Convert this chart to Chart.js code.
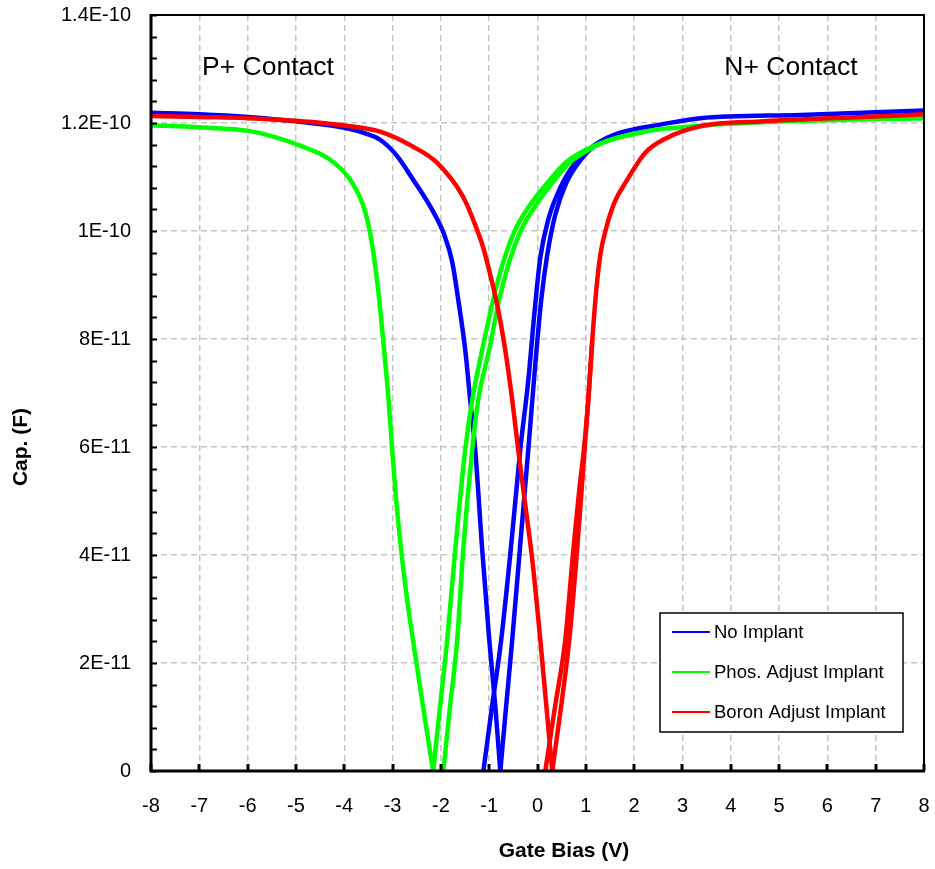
<!DOCTYPE html>
<html>
<head>
<meta charset="utf-8">
<script src="https://cdn.jsdelivr.net/npm/chart.js@4/dist/chart.umd.min.js"></script>
<style>
  body { margin: 0; background: #fff; }
  canvas { display: block; }
</style>
</head>
<body>
<canvas id="chart" width="935" height="869"></canvas>
<script>
// Gate bias (V) and capacitance (pF).
// Each curve: one falling branch into the dip, and two rising branches (two sweeps).
const PF = 1e-12;

// No Implant
const blueDownV = [-8, -7, -6, -5, -3.878, -3.567, -3.257, -2.925, -2.573, -2.18, -1.931, -1.766, -1.641, -1.496, -1.393, -1.289, -1.144, -0.999, -0.875, -0.77];
const blueDownC = [121.9, 121.6, 121.1, 120.3, 118.9, 118.1, 116.9, 114.1, 109.5, 103.9, 99.3, 94.3, 87.3, 78.0, 68.7, 59.5, 40.9, 24.3, 12.2, 0];
const blueUpV = [-0.77, -0.647, -0.523, -0.357, -0.191, -0.047, 0.078, 0.202, 0.368, 0.596, 0.886, 1.259, 1.714, 2.543, 3.371, 5.443, 8];
const blueUpC = [0, 12.2, 24.3, 41.9, 59.5, 75.2, 87.3, 95.6, 103.0, 108.9, 113.1, 116.3, 118.2, 119.7, 120.9, 121.5, 122.3];
const blueUp2V = [-1.12, -0.937, -0.751, -0.544, -0.357, -0.191, -0.067, 0.057, 0.223, 0.471, 0.782, 1.196, 1.714];
const blueUp2C = [0, 12.2, 24.3, 41.9, 59.5, 72.3, 84.5, 95.0, 102.1, 108.0, 112.6, 116.0, 118.2];

// Phos. Adjust Implant
const greenDownV = [-8, -7, -5.95, -5.432, -4.914, -4.292, -3.878, -3.567, -3.422, -3.298, -3.195, -3.091, -3.008, -2.925, -2.822, -2.698, -2.553, -2.366, -2.16];
const greenDownC = [119.6, 119.2, 118.5, 117.4, 115.8, 113.2, 109.5, 103.6, 97.4, 89.1, 79.8, 69.7, 59.5, 50.2, 40.9, 31.7, 22.8, 11.7, 0];
const greenUpV = [-2.16, -2.014, -1.869, -1.703, -1.496, -1.351, -1.144, -0.916, -0.771, -0.626, -0.44, -0.15, 0.202, 0.575, 0.989, 1.445, 2.273, 3.371, 5.443, 8];
const greenUpC = [0, 12.2, 24.3, 40.9, 59.5, 68.7, 78.0, 87.3, 92.4, 96.5, 100.6, 104.9, 108.9, 112.6, 115.0, 116.7, 118.5, 119.5, 120.4, 120.9];
const greenUp2V = [-1.95, -1.807, -1.662, -1.538, -1.351, -1.227, -0.999, -0.792, -0.647, -0.502, -0.316, -0.026, 0.306, 0.658, 1.052, 1.445, 2.273];
const greenUp2C = [0, 12.2, 24.3, 40.9, 59.5, 68.7, 78.0, 87.3, 92.4, 96.5, 100.6, 104.9, 108.9, 112.6, 115.0, 116.7, 118.5];

// Boron Adjust Implant
const redDownV = [-8, -7, -6, -5, -3.878, -3.257, -2.573, -2.076, -1.538, -1.31, -1.123, -0.978, -0.833, -0.668, -0.523, -0.399, -0.253, -0.108, 0.058, 0.181, 0.306];
const redDownC = [121.3, 121.1, 120.9, 120.4, 119.4, 118.4, 115.6, 112.6, 106.3, 101.6, 96.9, 91.9, 86.3, 78.0, 68.7, 59.5, 49.3, 39.1, 24.3, 12.2, 0];
const redUpV = [0.306, 0.492, 0.658, 0.803, 0.906, 0.989, 1.051, 1.134, 1.217, 1.30, 1.424, 1.59, 1.818, 2.232, 2.646, 3.371, 4.614, 6.478, 8];
const redUpC = [0, 12.2, 24.3, 39.1, 51.1, 61.3, 68.7, 79.8, 89.1, 95.6, 100.6, 105.2, 108.9, 114.5, 117.1, 119.4, 120.3, 121.0, 121.6];
const redUp2V = [0.161, 0.368, 0.575, 0.741, 0.865, 0.948, 1.0, 1.051, 1.134];
const redUp2C = [0, 12.2, 24.3, 40.9, 52.1, 58.5, 63.2, 68.7, 79.8];

const seriesLabels = ['No Implant', 'Phos. Adjust Implant', 'Boron Adjust Implant'];
const seriesColors = ['#0000ff', '#00ff00', '#ff0000'];

const xTickValues = [-8, -7, -6, -5, -4, -3, -2, -1, 0, 1, 2, 3, 4, 5, 6, 7, 8];
const yTickValues = [0, 2e-11, 4e-11, 6e-11, 8e-11, 1e-10, 1.2e-10, 1.4e-10];
const yTickLabels = ['0', '2E-11', '4E-11', '6E-11', '8E-11', '1E-10', '1.2E-10', '1.4E-10'];
const yMinorStep = 4e-12;

function pts(xs, ys){
    return xs.map((x, i) => ({x: x, y: ys[i] * PF}));
}

function branch(xs, ys, idx, inLegend){
    return {
        label: inLegend ? seriesLabels[idx] : '',
        inLegend: inLegend,
        data: pts(xs, ys),
        showLine: true,
        borderColor: seriesColors[idx],
        borderWidth: 4.5,
        pointRadius: 0,
        fill: false,
        cubicInterpolationMode: 'monotone',
        borderJoinStyle: 'round',
        order: 3 - idx
    };
}

const datasets = [
    branch(blueDownV, blueDownC, 0, true),
    branch(blueUpV, blueUpC, 0, false),
    branch(blueUp2V, blueUp2C, 0, false),
    branch(greenDownV, greenDownC, 1, true),
    branch(greenUpV, greenUpC, 1, false),
    branch(greenUp2V, greenUp2C, 1, false),
    branch(redDownV, redDownC, 2, true),
    branch(redUpV, redUpC, 2, false),
    branch(redUp2V, redUp2C, 2, false)
];

const FONT = '"Liberation Sans", Arial, sans-serif';

// frame, inner ticks, titles, notes and the boxed legend
const decor = {
    id: 'decor',
    beforeDraw(c){
        const ctx = c.ctx;
        ctx.save();
        ctx.fillStyle = '#fff';
        ctx.fillRect(0, 0, c.width, c.height);
        ctx.restore();
    },
    afterDatasetsDraw(c){
        const ctx = c.ctx;
        const a = c.chartArea;
        const xs = c.scales.x, ys = c.scales.y;
        ctx.save();
        ctx.strokeStyle = '#000';

        // minor ticks on the left axis
        ctx.lineWidth = 2;
        for(let v = 0; v <= ys.max + 1e-15; v += yMinorStep){
            const py = Math.round(ys.getPixelForValue(v)) + 0.5;
            ctx.beginPath(); ctx.moveTo(a.left, py); ctx.lineTo(a.left + 6, py); ctx.stroke();
        }
        // ticks on the bottom axis
        ctx.lineWidth = 3;
        xTickValues.forEach(v => {
            const px = Math.round(xs.getPixelForValue(v));
            ctx.beginPath(); ctx.moveTo(px, a.bottom); ctx.lineTo(px, a.bottom - 7); ctx.stroke();
        });

        // frame
        ctx.lineWidth = 2;
        ctx.beginPath(); ctx.moveTo(a.left, a.top); ctx.lineTo(a.right, a.top); ctx.lineTo(a.right, a.bottom); ctx.stroke();
        ctx.lineWidth = 3;
        ctx.beginPath(); ctx.moveTo(a.left, a.top - 1); ctx.lineTo(a.left, a.bottom); ctx.lineTo(a.right + 1, a.bottom); ctx.stroke();

        // notes
        ctx.fillStyle = '#000';
        ctx.font = '26.5px ' + FONT;
        ctx.textAlign = 'center';
        ctx.textBaseline = 'middle';
        ctx.fillText('P+ Contact', 268, 68);
        ctx.fillText('N+ Contact', 791, 68);

        // axis titles
        ctx.font = 'bold 21px ' + FONT;
        ctx.fillText('Gate Bias (V)', 564, 851);
        ctx.save();
        ctx.translate(21, 447);
        ctx.rotate(-Math.PI / 2);
        ctx.fillText('Cap. (F)', 0, 0);
        ctx.restore();

        // legend
        const lx = 660, ly = 613, lw = 243, lh = 119;
        ctx.fillStyle = '#fff';
        ctx.fillRect(lx, ly, lw, lh);
        ctx.lineWidth = 1.5;
        ctx.strokeStyle = '#000';
        ctx.strokeRect(lx, ly, lw, lh);
        ctx.font = '18.5px ' + FONT;
        ctx.textAlign = 'left';
        const rows = c.data.datasets.filter(d => d.inLegend);
        rows.forEach((d, i) => {
            const yy = 632 + i * 40;
            ctx.strokeStyle = d.borderColor;
            ctx.lineWidth = 2;
            ctx.beginPath(); ctx.moveTo(672, yy); ctx.lineTo(710, yy); ctx.stroke();
            ctx.fillStyle = '#000';
            ctx.fillText(d.label, 714, yy + 1);
        });
        ctx.restore();
    }
};

const ctx = document.getElementById('chart').getContext('2d');
const chart = new Chart(ctx, {
    type: 'scatter',
    data: { datasets: datasets },
    options: {
        responsive: false,
        animation: false,
        layout: { padding: { left: 0, top: 15, right: 11, bottom: 0 } },
        scales: {
            x: {
                type: 'linear',
                min: -8,
                max: 8,
                afterBuildTicks: s => { s.ticks = xTickValues.map(v => ({value: v})); },
                afterFit: s => { s.height = 98; },
                ticks: {
                    autoSkip: false,
                    maxRotation: 0,
                    padding: 0,
                    color: '#000',
                    font: { family: FONT, size: 20 },
                    callback: v => String(v)
                },
                // invisible tick marks only push the labels away from the axis
                grid: { color: '#c4c4c4', lineWidth: 1.5, drawTicks: true, tickLength: 23, tickWidth: 0 },
                border: { display: false, dash: [6, 4] }
            },
            y: {
                type: 'linear',
                min: 0,
                max: 1.4e-10,
                afterBuildTicks: s => { s.ticks = yTickValues.map(v => ({value: v})); },
                afterFit: s => { s.width = 151; },
                ticks: {
                    padding: 0,
                    color: '#000',
                    font: { family: FONT, size: 20 },
                    callback: (v, i) => yTickLabels[i]
                },
                grid: { color: '#c4c4c4', lineWidth: 1.5, drawTicks: true, tickLength: 20, tickWidth: 0 },
                border: { display: false, dash: [6, 4] }
            }
        },
        plugins: {
            legend: { display: false },
            tooltip: { enabled: false }
        }
    },
    plugins: [decor]
});
</script>
</body>
</html>
